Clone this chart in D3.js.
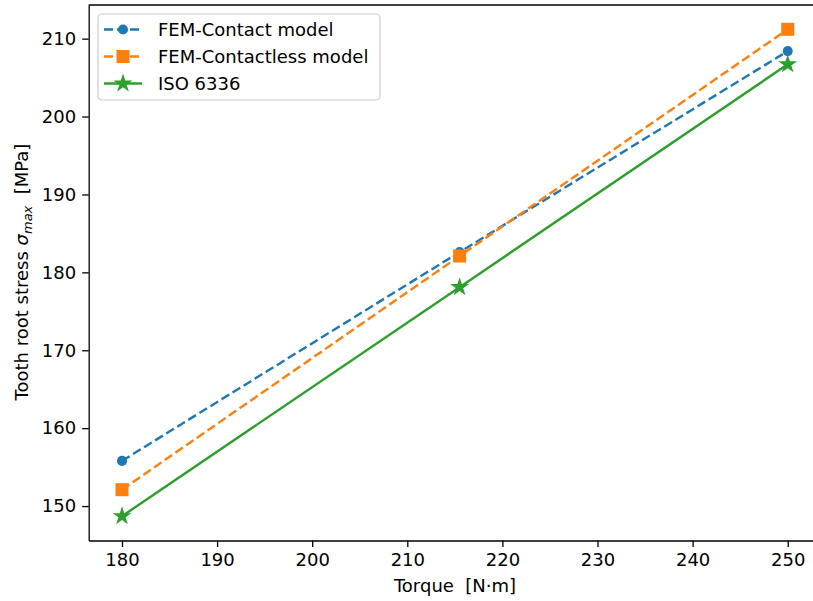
<!DOCTYPE html>
<html>
<head>
<meta charset="utf-8">
<script src="https://cdn.jsdelivr.net/npm/d3@7"></script>
<style>
  body { margin: 0; background: #fff; }
  text { font-family: "DejaVu Sans", sans-serif; white-space: pre; }
</style>
</head>
<body>
<div id="chart"></div>
<script>
// torque values and stresses
var torque = [180, 215.5, 250];
var femContact = [155.8, 182.6, 208.4];
var femContactless = [152.1, 182.1, 211.2];
var iso6336 = [148.7, 178.1, 206.7];
var xTicks = [180, 190, 200, 210, 220, 230, 240, 250];
var yTicks = [150, 160, 170, 180, 190, 200, 210];

var w = 813, h = 601;
var svg = d3.select("#chart").append("svg")
    .attr("width", w)
    .attr("height", h);

// plot box (right spine falls outside the picture)
var pLeft = 88.7, pRight = 821, pTop = 5, pBottom = 540.5;

var x = d3.scaleLinear().domain([176.5, 253.5]).range([pLeft, pRight]);
var y = d3.scaleLinear().domain([145.58, 214.32]).range([pBottom, pTop]);

var series = [
    {name: "FEM-Contact model", values: femContact, color: "#1f77b4", dash: "9,4", marker: "circle"},
    {name: "FEM-Contactless model", values: femContactless, color: "#ff7f0e", dash: "9,4", marker: "square"},
    {name: "ISO 6336", values: iso6336, color: "#2ca02c", dash: null, marker: "star"}
];

var symbols = {
    circle: d3.symbol().type(d3.symbolCircle).size(80),
    square: d3.symbol().type(d3.symbolSquare).size(170),
    star: d3.symbol().type(d3.symbolStar).size(110)
};

// axes
var xAxis = svg.append("g")
    .attr("transform", "translate(0," + pBottom + ")")
    .call(d3.axisBottom(x).tickValues(xTicks).tickSize(6.5).tickPadding(6).tickSizeOuter(0));
var yAxis = svg.append("g")
    .attr("transform", "translate(" + pLeft + ",0)")
    .call(d3.axisLeft(y).tickValues(yTicks).tickSize(6.5).tickPadding(6).tickSizeOuter(0));

[xAxis, yAxis].forEach(function (g) {
    g.select(".domain").attr("stroke", "#000").attr("stroke-width", 1.3);
    g.selectAll(".tick line").attr("stroke", "#000").attr("stroke-width", 1.3);
    g.selectAll(".tick text")
        .attr("fill", "#000")
        .style("font-family", "DejaVu Sans")
        .style("font-size", "18px");
});

// top spine
svg.append("line")
    .attr("x1", pLeft).attr("x2", pRight)
    .attr("y1", pTop).attr("y2", pTop)
    .attr("stroke", "#000").attr("stroke-width", 1.3);

// lines and markers
var line = d3.line()
    .x(function (d, i) { return x(torque[i]); })
    .y(function (d) { return y(d); });

series.forEach(function (s) {
    svg.append("path")
        .datum(s.values)
        .attr("d", line)
        .attr("fill", "none")
        .attr("stroke", s.color)
        .attr("stroke-width", 2.4)
        .attr("stroke-dasharray", s.dash);

    svg.selectAll(null)
        .data(s.values)
        .enter()
        .append("path")
        .attr("d", symbols[s.marker])
        .attr("transform", function (d, i) {
            return "translate(" + x(torque[i]) + "," + y(d) + ")";
        })
        .attr("fill", s.color);
});

// axis labels
svg.append("text")
    .attr("x", 455)
    .attr("y", 592)
    .attr("text-anchor", "middle")
    .style("font-size", "18px")
    .text("Torque  [N\u00b7m]");

var yl = svg.append("text")
    .attr("transform", "translate(28," + 272 + ") rotate(-90)")
    .attr("text-anchor", "middle")
    .style("font-size", "18px");
yl.append("tspan").text("Tooth root stress ");
yl.append("tspan").style("font-style", "italic").text("\u03c3");
yl.append("tspan").style("font-style", "italic").style("font-size", "13px").attr("dy", 4).text("max");
yl.append("tspan").attr("dy", -4).text("  [MPa]");

// legend
var legend = svg.append("g");
legend.append("rect")
    .attr("x", 98).attr("y", 14)
    .attr("width", 282).attr("height", 86)
    .attr("rx", 4)
    .attr("fill", "#fff").attr("fill-opacity", 0.8)
    .attr("stroke", "#ccc").attr("stroke-width", 1.2);

series.forEach(function (s, i) {
    var ly = 29.5 + i * 27;
    legend.append("line")
        .attr("x1", 104).attr("x2", 142)
        .attr("y1", ly).attr("y2", ly)
        .attr("stroke", s.color)
        .attr("stroke-width", 2.4)
        .attr("stroke-dasharray", s.dash);
    legend.append("path")
        .attr("d", symbols[s.marker])
        .attr("transform", "translate(123," + ly + ")")
        .attr("fill", s.color);
    legend.append("text")
        .attr("x", 158).attr("y", ly + 6.5)
        .style("font-size", "18px")
        .text(s.name);
});
</script>
</body>
</html>
